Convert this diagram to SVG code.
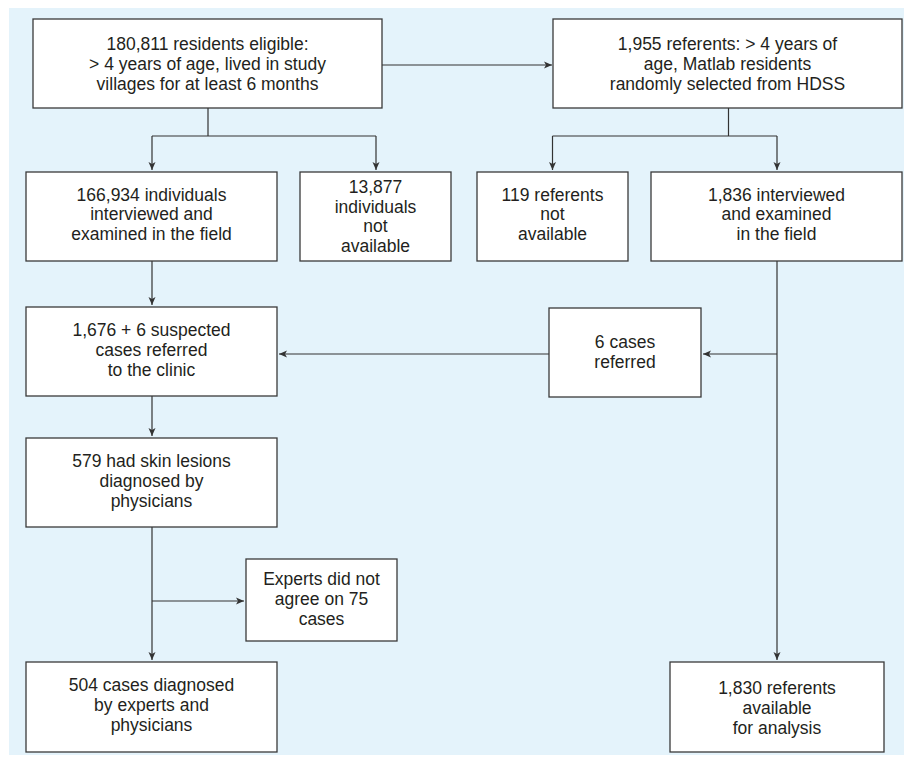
<svg xmlns="http://www.w3.org/2000/svg" width="904" height="757" viewBox="0 0 904 757">
<defs>
<style>
.bg{fill:#e4f3fb}
.box{fill:#ffffff;stroke:#3a3a3a;stroke-width:1.3}
.t{font-family:"Liberation Sans",Arial,sans-serif;font-size:17.5px;fill:#231f20;text-anchor:middle}
.c{fill:none;stroke:#333333;stroke-width:1.2}
</style>
<marker id="ah" markerUnits="userSpaceOnUse" markerWidth="10" markerHeight="10" viewBox="0 0 10 10" refX="9" refY="5" orient="auto">
<path d="M1,1.5 L9,5 L1,8.5 L3,5 Z" fill="#333333"/>
</marker>
</defs>
<rect class="bg" x="9" y="8" width="895" height="747"/>
<g id="connectors">
<path class="c" d="M382,65 H552" marker-end="url(#ah)"/>
<path class="c" d="M208,108 V136 M152,136 H376"/>
<path class="c" d="M152,136 V170" marker-end="url(#ah)"/>
<path class="c" d="M376,136 V170" marker-end="url(#ah)"/>
<path class="c" d="M728.5,108 V136 M552.5,136 H777"/>
<path class="c" d="M552.5,136 V170" marker-end="url(#ah)"/>
<path class="c" d="M777,136 V170" marker-end="url(#ah)"/>
<path class="c" d="M152,261 V305" marker-end="url(#ah)"/>
<path class="c" d="M777,261 V660" marker-end="url(#ah)"/>
<path class="c" d="M777,354 H703" marker-end="url(#ah)"/>
<path class="c" d="M549,354 H279" marker-end="url(#ah)"/>
<path class="c" d="M152,396 V436" marker-end="url(#ah)"/>
<path class="c" d="M152,527 V660" marker-end="url(#ah)"/>
<path class="c" d="M152,601 H244" marker-end="url(#ah)"/>
</g>
<g id="n1"><rect class="box" x="33" y="19" width="349" height="89"/>
<text class="t" x="207.5" y="49.5">180,811 residents eligible:</text>
<text class="t" x="207.5" y="69.5">&gt; 4 years of age, lived in study</text>
<text class="t" x="207.5" y="89.5">villages for at least 6 months</text></g>
<g id="n2"><rect class="box" x="553" y="19" width="349" height="89"/>
<text class="t" x="727.5" y="49.5">1,955 referents: &gt; 4 years of</text>
<text class="t" x="727.5" y="69.5">age, Matlab residents</text>
<text class="t" x="727.5" y="89.5">randomly selected from HDSS</text></g>
<g id="n3"><rect class="box" x="26" y="172" width="251" height="89"/>
<text class="t" x="151.5" y="200.5">166,934 individuals</text>
<text class="t" x="151.5" y="220.2">interviewed and</text>
<text class="t" x="151.5" y="240">examined in the field</text></g>
<g id="n4"><rect class="box" x="300" y="172" width="151" height="89"/>
<text class="t" x="375.5" y="193">13,877</text>
<text class="t" x="375.5" y="212.6">individuals</text>
<text class="t" x="375.5" y="232.2">not</text>
<text class="t" x="375.5" y="251.8">available</text></g>
<g id="n5"><rect class="box" x="477" y="172" width="151" height="89"/>
<text class="t" x="552.5" y="200.5">119 referents</text>
<text class="t" x="552.5" y="220.2">not</text>
<text class="t" x="552.5" y="240">available</text></g>
<g id="n6"><rect class="box" x="651" y="172" width="251" height="89"/>
<text class="t" x="776.5" y="200.5">1,836 interviewed</text>
<text class="t" x="776.5" y="220.2">and examined</text>
<text class="t" x="776.5" y="240">in the field</text></g>
<g id="n7"><rect class="box" x="26" y="307" width="251" height="89"/>
<text class="t" x="151.5" y="336">1,676 + 6 suspected</text>
<text class="t" x="151.5" y="356">cases referred</text>
<text class="t" x="151.5" y="376">to the clinic</text></g>
<g id="n8"><rect class="box" x="549" y="308" width="152" height="89"/>
<text class="t" x="625" y="348">6 cases</text>
<text class="t" x="625" y="368">referred</text></g>
<g id="n9"><rect class="box" x="26" y="438" width="251" height="89"/>
<text class="t" x="151.5" y="467">579 had skin lesions</text>
<text class="t" x="151.5" y="487">diagnosed by</text>
<text class="t" x="151.5" y="507">physicians</text></g>
<g id="n10"><rect class="box" x="246" y="559" width="151" height="82"/>
<text class="t" x="321.5" y="585">Experts did not</text>
<text class="t" x="321.5" y="605">agree on 75</text>
<text class="t" x="321.5" y="625">cases</text></g>
<g id="n11"><rect class="box" x="26" y="662" width="251" height="90"/>
<text class="t" x="151.5" y="691">504 cases diagnosed</text>
<text class="t" x="151.5" y="711">by experts and</text>
<text class="t" x="151.5" y="731">physicians</text></g>
<g id="n12"><rect class="box" x="670" y="662" width="214" height="90"/>
<text class="t" x="777" y="694">1,830 referents</text>
<text class="t" x="777" y="714">available</text>
<text class="t" x="777" y="734">for analysis</text></g>
</svg>
